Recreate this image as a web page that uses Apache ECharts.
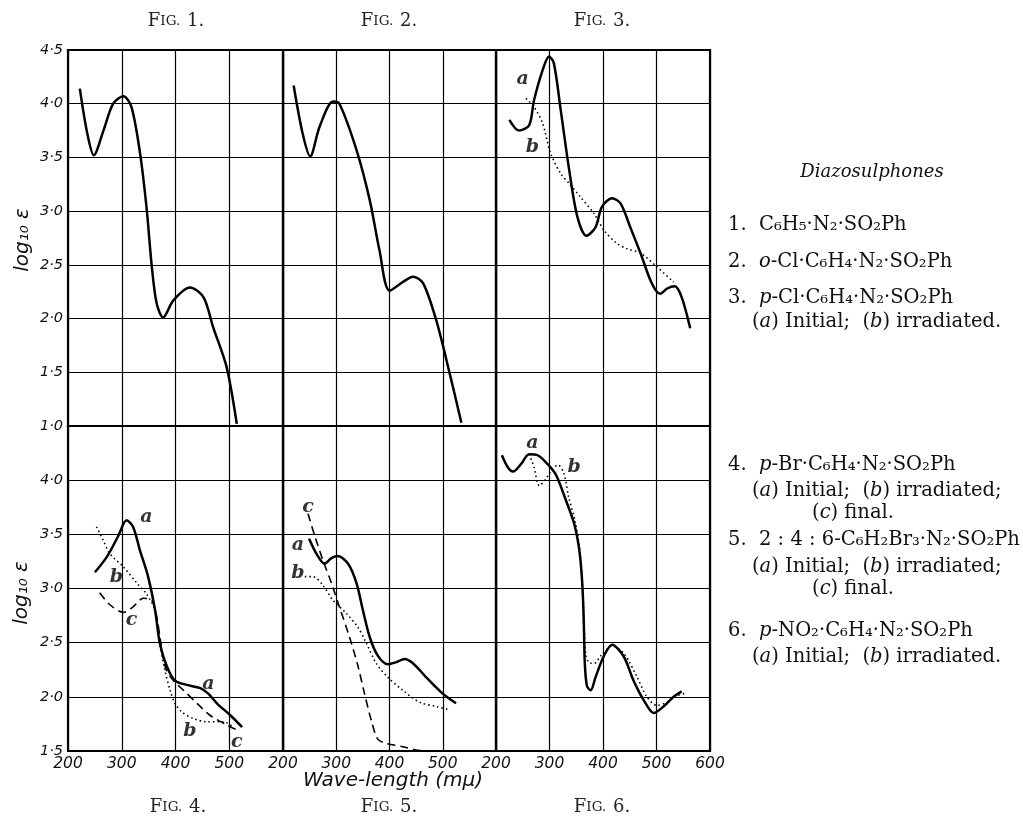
<!DOCTYPE html>
<html><head><meta charset="utf-8">
<script src="https://cdn.jsdelivr.net/npm/echarts@6/dist/echarts.min.js"></script>
<style>html,body{margin:0;padding:0;background:#fff}#c{width:1023px;height:822px}</style>
</head><body><div id="c"></div>
<script>
// ---- tick values ----
const xTicks = [200, 300, 400, 500, 600];
const yTicksTop = [1.0, 1.5, 2.0, 2.5, 3.0, 3.5, 4.0, 4.5];
const yTicksBottom = [1.5, 2.0, 2.5, 3.0, 3.5, 4.0, 4.5];

// ---- series data: [wavelength (mμ), log10 ε] ----
const fig1 = [[222,4.14],[236,3.72],[248,3.52],[266,3.75],[284,4.0],[303,4.07],[318,3.97],[334,3.54],[346,3.04],[356,2.48],[365,2.14],[377,2.01],[396,2.17],[427,2.29],[452,2.20],[470,1.92],[495,1.55],[514,1.02]];
const fig2 = [[220,4.17],[237,3.72],[251,3.51],[269,3.79],[294,4.02],[306,4.0],[338,3.57],[363,3.1],[381,2.64],[400,2.26],[425,2.34],[444,2.39],[463,2.33],[488,1.98],[513,1.49],[535,1.03]];
const fig3a = [[225,3.85],[243,3.75],[262,3.80],[271,4.03],[287,4.31],[299,4.44],[308,4.38],[321,3.94],[336,3.41],[352,2.95],[369,2.77],[386,2.85],[398,3.04],[417,3.12],[433,3.07],[451,2.85],[470,2.61],[491,2.33],[507,2.23],[520,2.28],[534,2.30],[547,2.20],[563,1.91]];
const fig3b = [[256,4.05],[271,3.97],[287,3.82],[302,3.54],[321,3.35],[340,3.24],[358,3.13],[383,2.98],[402,2.82],[426,2.70],[445,2.65],[470,2.61],[501,2.48],[532,2.34]];
const fig4a = [[250,3.15],[272,3.29],[293,3.48],[309,3.63],[321,3.57],[334,3.35],[349,3.11],[362,2.80],[371,2.49],[384,2.28],[399,2.15],[421,2.11],[446,2.08],[461,2.03],[477,1.94],[502,1.83],[524,1.72]];
const fig4b = [[253,3.57],[265,3.45],[278,3.32],[303,3.20],[328,3.05],[346,2.95],[362,2.80],[371,2.49],[380,2.25],[390,2.06],[399,1.94],[412,1.86],[433,1.80],[458,1.77],[489,1.77],[508,1.72]];
const fig4c = [[259,2.96],[278,2.85],[303,2.78],[321,2.83],[340,2.91],[356,2.89],[365,2.74],[373,2.49],[382,2.26],[396,2.15],[415,2.06],[440,1.94],[464,1.83],[496,1.74],[520,1.68]];
const fig5a = [[249,3.46],[263,3.32],[278,3.23],[291,3.28],[303,3.30],[322,3.23],[338,3.05],[350,2.80],[363,2.55],[378,2.38],[397,2.30],[413,2.32],[428,2.35],[444,2.31],[469,2.18],[500,2.03],[525,1.94]];
const fig5b = [[241,3.11],[256,3.11],[275,3.03],[294,2.89],[319,2.77],[341,2.64],[357,2.49],[375,2.31],[397,2.18],[425,2.06],[457,1.95],[488,1.91],[513,1.88]];
const fig5c = [[247,3.69],[260,3.48],[275,3.26],[291,3.05],[306,2.83],[325,2.55],[341,2.28],[353,2.03],[366,1.78],[378,1.61],[394,1.57],[425,1.54],[450,1.51],[469,1.50]];
const fig6a = [[211,4.23],[222,4.12],[232,4.08],[247,4.15],[262,4.24],[278,4.23],[296,4.15],[312,4.05],[331,3.81],[346,3.60],[355,3.38],[359.5,3.17],[362.5,2.92],[364.5,2.61],[366,2.31],[370,2.10],[377,2.06],[386,2.18],[401,2.37],[417,2.48],[439,2.37],[457,2.15],[476,1.97],[495,1.85],[513,1.91],[532,2.00],[547,2.05]];
const fig6b = [[262,4.24],[271,4.12],[281,3.95],[293,4.01],[306,4.11],[316,4.14],[327,4.06],[336,3.84],[348,3.62],[356,3.38],[360,3.15],[363,2.90],[365,2.61],[368,2.38],[376,2.31],[384,2.31],[396,2.38],[417,2.47],[439,2.40],[464,2.18],[482,2.00],[501,1.92],[520,1.95],[538,2.01],[552,2.03]];

// ---- curve letter labels: [x, y, text] ----
const labels3 = [[250,4.23,'a'],[268,3.60,'b']];
const labels4 = [[346,3.66,'a'],[461,2.12,'a'],[290,3.11,'b'],[427,1.68,'b'],[318,2.71,'c'],[514,1.58,'c']];
const labels5 = [[247,3.75,'c'],[228,3.40,'a'],[228,3.14,'b']];
const labels6 = [[268,4.34,'a'],[346,4.12,'b']];

// ---- text ----
const figTitles = ['1.', '2.', '3.', '4.', '5.', '6.'];
const xName = 'Wave-length (mμ)';

const chart = echarts.init(document.getElementById('c'), null, {renderer: 'canvas'});

const gridBoxes = [
  {left: 68, top: 50, width: 215, height: 376},
  {left: 283, top: 50, width: 213, height: 376},
  {left: 496, top: 50, width: 214, height: 376},
  {left: 68, top: 426, width: 215, height: 325},
  {left: 283, top: 426, width: 213, height: 325},
  {left: 496, top: 426, width: 214, height: 325}
];

const dot = v => v.toFixed(1).replace('.', '·');
const tickFont = {fontFamily: 'DejaVu Sans', fontStyle: 'italic', fontSize: 14.5, color: '#111'};

const grids = gridBoxes.map(b => Object.assign({show: true, borderColor: '#000', borderWidth: 2.2, backgroundColor: 'transparent', containLabel: false}, b));

const xAxes = gridBoxes.map((b, i) => ({
  type: 'value', gridIndex: i, min: 200, max: 600, interval: 100,
  axisLine: {show: false}, axisTick: {show: false},
  splitLine: {show: true, lineStyle: {color: '#000', width: 1.2}},
  axisLabel: {
    show: i >= 3, margin: 5,
    formatter: v => (i < 5 && v === 600) ? '' : String(v),
    ...tickFont, fontSize: 15.5
  }
}));

const yAxes = gridBoxes.map((b, i) => ({
  type: 'value', gridIndex: i,
  min: i < 3 ? 1.0 : 1.5, max: 4.5, interval: 0.5,
  axisLine: {show: false}, axisTick: {show: false},
  splitLine: {show: true, lineStyle: {color: '#000', width: 1.2}},
  axisLabel: {
    show: i === 0 || i === 3, margin: 5,
    formatter: v => (i === 3 && v === 4.5) ? '' : dot(v),
    ...tickFont
  }
}));

function line(data, idx, kind) {
  const ls = {color: '#000'};
  if (kind === 'solid') { ls.width = 2.5; ls.type = 'solid'; }
  else if (kind === 'dotted') { ls.width = 1.6; ls.type = [1.5, 3]; }
  else { ls.width = 1.6; ls.type = [8, 5]; }
  return {type: 'line', xAxisIndex: idx, yAxisIndex: idx, data: data, showSymbol: false,
    smooth: 0.3, lineStyle: ls, z: 3, silent: true, animation: false};
}
function letters(arr, idx) {
  return {type: 'scatter', xAxisIndex: idx, yAxisIndex: idx, symbolSize: 1, silent: true, animation: false,
    itemStyle: {color: 'transparent'},
    data: arr.map(d => ({value: [d[0], d[1]], name: d[2]})),
    label: {show: true, position: 'inside', formatter: p => p.name,
      fontFamily: 'DejaVu Serif', fontStyle: 'italic', fontWeight: 'bold', fontSize: 19, color: '#000'}};
}

const series = [
  line(fig1, 0, 'solid'),
  line(fig2, 1, 'solid'),
  line(fig3a, 2, 'solid'), line(fig3b, 2, 'dotted'), letters(labels3, 2),
  line(fig4a, 3, 'solid'), line(fig4b, 3, 'dotted'), line(fig4c, 3, 'dashed'), letters(labels4, 3),
  line(fig5a, 4, 'solid'), line(fig5b, 4, 'dotted'), line(fig5c, 4, 'dashed'), letters(labels5, 4),
  line(fig6a, 5, 'solid'), line(fig6b, 5, 'dotted'), letters(labels6, 5)
];

const figRich = {F: {fontFamily: 'DejaVu Serif', fontSize: 18, fill: '#222'}, s: {fontFamily: 'DejaVu Serif', fontSize: 13.5, fill: '#222'}};
function figText(n, x, y) {
  return {type: 'text', x: x, y: y, style: {text: '{F|F}{s|IG.}  {F|' + n + '}', rich: figRich, align: 'center', verticalAlign: 'middle'}};
}
const serif = 'DejaVu Serif';
const FS = 19.5;
function rt(text, x, y, extra) {
  return {type: 'text', x: x, y: y, style: Object.assign({text: text, fontFamily: serif, fontSize: FS, fill: '#111', align: 'left', verticalAlign: 'middle',
    rich: {i: {fontFamily: serif, fontStyle: 'italic', fontSize: FS, fill: '#111'}}}, extra || {})};
}

const graphic = [
  figText(figTitles[0], 176, 21), figText(figTitles[1], 389, 21), figText(figTitles[2], 602, 21),
  figText(figTitles[3], 178, 807), figText(figTitles[4], 389, 807), figText(figTitles[5], 602, 807),
  {type: 'text', x: 393, y: 781, style: {text: xName, fontFamily: 'DejaVu Sans', fontStyle: 'italic', fontSize: 20, fill: '#111', align: 'center', verticalAlign: 'middle'}},
  {type: 'text', x: 23, y: 240, rotation: Math.PI / 2, style: {text: 'log₁₀ ε', fontFamily: 'DejaVu Sans', fontStyle: 'italic', fontSize: 20, fill: '#111', align: 'center', verticalAlign: 'middle'}},
  {type: 'text', x: 22, y: 593, rotation: Math.PI / 2, style: {text: 'log₁₀ ε', fontFamily: 'DejaVu Sans', fontStyle: 'italic', fontSize: 20, fill: '#111', align: 'center', verticalAlign: 'middle'}},
  rt('Diazosulphones', 872, 172, {fontStyle: 'italic', align: 'center', fontSize: 18}),
  rt('1.  C₆H₅·N₂·SO₂Ph', 728, 225),
  rt('2.  {i|o}-Cl·C₆H₄·N₂·SO₂Ph', 728, 262),
  rt('3.  {i|p}-Cl·C₆H₄·N₂·SO₂Ph', 728, 298),
  rt('({i|a}) Initial;  ({i|b}) irradiated.', 752, 322),
  rt('4.  {i|p}-Br·C₆H₄·N₂·SO₂Ph', 728, 465),
  rt('({i|a}) Initial;  ({i|b}) irradiated;', 752, 491),
  rt('({i|c}) final.', 853, 513, {align: 'center'}),
  rt('5.  2 : 4 : 6-C₆H₂Br₃·N₂·SO₂Ph', 728, 540),
  rt('({i|a}) Initial;  ({i|b}) irradiated;', 752, 567),
  rt('({i|c}) final.', 853, 589, {align: 'center'}),
  rt('6.  {i|p}-NO₂·C₆H₄·N₂·SO₂Ph', 728, 631),
  rt('({i|a}) Initial;  ({i|b}) irradiated.', 752, 657)
];

chart.setOption({
  backgroundColor: '#fff',
  animation: false,
  grid: grids, xAxis: xAxes, yAxis: yAxes, series: series, graphic: graphic
});
</script></body></html>
